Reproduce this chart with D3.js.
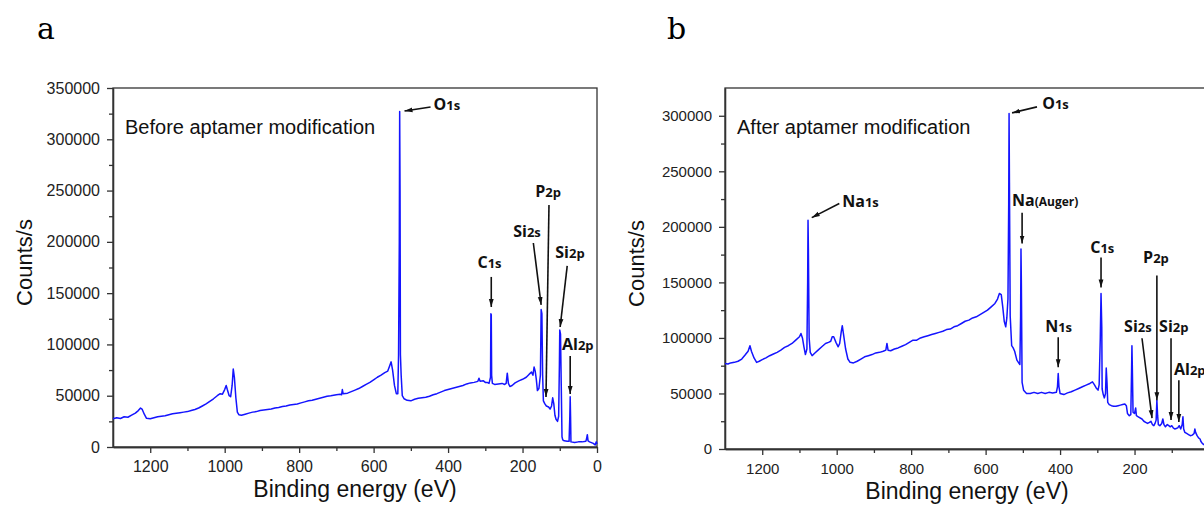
<!DOCTYPE html>
<html>
<head>
<meta charset="utf-8">
<script src="https://cdnjs.cloudflare.com/ajax/libs/d3/7.8.5/d3.min.js"></script>
<style>
body { margin:0; background:#fff; overflow:hidden; }
svg { display:block; }
.axis text { fill:#222; font-family:"Liberation Sans", Arial, sans-serif; }
.axis path, .axis line { stroke:#333; stroke-width:1.3; }
</style>
</head>
<body>
<div id="chart"></div>
<script>
// XPS survey, before modification (binding energy eV, counts/s)
var energyA = [1300,1290,1280,1270,1260,1250,1240,1232,1226,1222,1216,1210,1200,1190,1180,1170,1160,1150,1140,1130,1120,1110,1100,1090,1080,1070,1060,1050,1040,1030,1020,1012,1006,1000,996,993,988,984,980,977,974,970,966,962,955,945,935,925,915,905,895,885,875,865,855,845,835,825,815,805,795,785,775,765,755,745,735,725,715,700,690,686,684,682,670,660,650,640,630,620,610,600,590,580,570,562,557,553,549,544,539,535,533,531,530,529,528,526,523,518,510,500,490,480,470,460,450,440,430,420,410,400,390,380,370,360,350,340,330,320,317,314,305,300,295,290,286,285,284,283,281,275,265,255,248,244,241,238,234,228,220,210,200,190,182,176,172,169,166,163,160,156,152,150,148,146,144,140,136,130,126,122,119,116,113,110,106,103,101,100,98,96,94,92,88,80,75,73,72,71,70,60,50,40,30,28,26,24,20,10,5,2,0];
var countsA = [27500,28500,27800,29500,29000,31000,33000,35500,38000,37000,32000,28000,27500,28500,29500,30000,30500,31500,32500,33000,33500,34000,34500,35500,36500,38000,40000,42000,44500,47000,50000,52000,51500,56000,60000,56000,50000,49000,60000,76000,68000,48000,34000,31500,31000,32000,33000,34000,34500,35500,36000,36500,37000,38000,38500,39500,40000,41000,41500,42000,43000,44000,45000,45500,46500,47500,48500,49500,50000,51000,51500,51000,56000,52000,52500,54000,55500,57000,59000,61000,63000,65500,68000,70000,72500,74000,79000,83000,75000,60000,52000,52000,90000,200000,327000,250000,90000,70000,50000,47000,45500,45000,46500,47500,48000,48500,49500,51000,52000,53500,55000,56000,57000,58000,59000,60000,61500,62500,63000,64000,67000,64000,64500,63000,63000,62000,68000,130000,129000,70000,62000,61000,61500,62000,61000,62000,72000,62000,59000,60000,62500,64500,66000,68000,71000,73000,70000,78000,74000,66000,55000,57000,70000,134000,130000,70000,45000,42000,40000,39000,37000,40000,48000,42000,31000,27000,25000,30000,80000,114000,110000,60000,10000,7000,6000,5500,5500,30000,49000,30000,5000,4500,5000,5000,5500,8000,12000,6000,5000,3500,2000,5000,3000];

// XPS survey, after modification
var energyB = [1300,1292,1285,1275,1265,1255,1245,1238,1233,1229,1222,1215,1208,1200,1190,1180,1170,1160,1150,1140,1130,1120,1110,1100,1096,1092,1088,1084,1080,1078,1077,1076,1074,1071,1066,1060,1050,1040,1030,1022,1016,1012,1008,1002,996,992,988,985,982,976,970,964,955,945,935,925,915,905,895,885,875,868,865,862,855,845,835,825,815,805,795,785,775,765,755,745,735,725,715,705,695,685,675,665,655,645,635,625,615,605,595,585,575,568,563,558,554,550,546,543,540,538,537,536,534,530,526,522,516,512,508,506,505,504,502,498,490,480,470,460,450,440,430,420,410,407,405,403,400,390,380,370,360,350,340,330,320,313,308,303,298,295,292,290,288,287,284,281,278,276,274,272,268,262,256,250,244,238,232,226,222,219,214,210,208,207,206,204,200,197,195,190,180,175,170,165,160,156,152,148,145,142,140,138,136,132,127,124,121,117,112,108,104,100,96,92,88,84,80,76,72,70,68,65,60,55,50,45,40,38,36,32,28,24,22,18,14,8,4,0];
var countsB = [77000,76500,77500,78000,79000,81000,85000,88000,93000,88000,82000,78000,79000,80500,82000,84000,85500,87000,89000,91500,93000,95000,98000,101000,104000,100000,92000,85000,90000,150000,206000,180000,100000,87000,84000,86000,89000,92000,95000,96000,97000,101000,101000,96000,92000,95000,105000,111000,104000,90000,81000,78000,77500,79000,81000,83000,84000,85000,86500,87000,88000,89000,95000,89000,88500,90000,91000,92500,94000,96000,98000,98000,100000,101000,102000,103000,104000,105000,106000,107500,108000,110000,111000,113000,115000,116000,118000,119000,121000,123000,125000,128000,131000,135000,140000,139000,128000,115000,110000,118000,135000,220000,302000,240000,120000,93000,91000,88000,80000,78000,76000,120000,180000,150000,60000,53000,50000,50000,51000,50000,51000,50000,51000,50500,51000,56000,68000,56000,50000,49000,50500,51500,53000,54500,56000,57500,59000,60500,58000,55000,53000,58000,100000,140000,110000,54000,49000,46000,50000,73000,60000,42000,40000,39000,38500,38500,39000,39500,40000,40500,39000,32000,30000,31000,70000,93000,75000,33000,32000,37000,30000,29000,27000,25000,24000,23000,24000,25000,22000,21000,23000,26000,44000,30000,22000,21000,23000,27000,22000,20000,22000,21000,20000,21000,19000,18000,18500,19000,21000,18000,22000,29000,18000,15000,14000,13000,12000,12500,14000,18000,15000,12000,10000,9000,7000,5000,4000,3500,5000,3000];

var xTicks = [1200, 1000, 800, 600, 400, 200, 0];
var xMinorTicks = [1100, 900, 700, 500, 300, 100];
var yTicksA = [0, 50000, 100000, 150000, 200000, 250000, 300000, 350000];
var yTicksB = [0, 50000, 100000, 150000, 200000, 250000, 300000];

// peak labels: name, subscript, text pos and arrow from/to, all in (eV, counts)
var peaksA = [
  {main:"O",  sub:"1s", tx:439, ty:328600, x1:447, y1:331500, x2:517, y2:327600},
  {main:"P",  sub:"2p", tx:166, ty:243700, x1:129, y1:236000, x2:137, y2:48800},
  {main:"Si", sub:"2s", tx:225, ty:204800, x1:171, y1:198900, x2:150, y2:138500},
  {main:"Si", sub:"2p", tx:112, ty:184300, x1:80,  y1:176500, x2:99,  y2:117000},
  {main:"C",  sub:"1s", tx:321, ty:174500, x1:284, y1:165800, x2:284, y2:136500},
  {main:"Al", sub:"2p", tx:94,  ty:94600,  x1:72,  y1:88700,  x2:72,  y2:51700}
];
var peaksB = [
  {main:"Na", sub:"1s",      tx:985, ty:218200, x1:993, y1:221000, x2:1067, y2:208300},
  {main:"O",  sub:"1s",      tx:448, ty:306200, x1:462, y1:308000, x2:529,  y2:302600},
  {main:"Na", sub:"(Auger)", tx:529, ty:219100, x1:502, y1:212800, x2:502,  y2:185000},
  {main:"C",  sub:"1s",      tx:319, ty:176900, x1:290, y1:172400, x2:290,  y2:145500},
  {main:"P",  sub:"2p",      tx:177, ty:167900, x1:140, y1:156300, x2:140,  y2:44000},
  {main:"N",  sub:"1s",      tx:440, ty:105100, x1:405, y1:100600, x2:405,  y2:73600},
  {main:"Si", sub:"2s",      tx:228, ty:105100, x1:180, y1:99700,  x2:153,  y2:27800},
  {main:"Si", sub:"2p",      tx:134, ty:105100, x1:102, y1:99700,  x2:102,  y2:26000},
  {main:"Al", sub:"2p",      tx:94,  ty:66500,  x1:81,  y1:62000,  x2:81,   y2:24200}
];

var svg = d3.select("#chart").append("svg").attr("width", 1204).attr("height", 506);

svg.append("defs").append("marker")
    .attr("id", "arr").attr("viewBox", "0 0 10 10")
    .attr("refX", 10).attr("refY", 5)
    .attr("markerUnits", "userSpaceOnUse")
    .attr("markerWidth", 8).attr("markerHeight", 8)
    .attr("orient", "auto")
  .append("path").attr("d", "M0,2L10,5L0,8z").attr("fill", "#111");

function drawPanel(cfg)
{
    var x = d3.scaleLinear().domain([1300, 0]).range([cfg.left, cfg.right]);
    var y = d3.scaleLinear().domain([0, cfg.yMax]).range([cfg.bottom, cfg.top]);
    var g = svg.append("g");

    // frame
    g.append("rect")
        .attr("x", cfg.left).attr("y", cfg.top)
        .attr("width", cfg.right - cfg.left).attr("height", cfg.bottom - cfg.top)
        .attr("fill", "none").attr("stroke", "#333").attr("stroke-width", 1.3);

    g.append("g").attr("class", "axis").attr("transform", "translate(0," + cfg.bottom + ")")
        .call(d3.axisBottom(x).tickValues(xMinorTicks).tickSize(4).tickSizeOuter(0).tickFormat(""));
    g.append("g").attr("class", "axis").attr("transform", "translate(0," + cfg.bottom + ")")
        .call(d3.axisBottom(x).tickValues(xTicks).tickSize(6).tickPadding(8).tickSizeOuter(0).tickFormat(d3.format("d")))
        .selectAll("text").style("font-size", cfg.tickFont + "px");

    var minorY = cfg.yTicks.map(function (d) { return d + 25000; }).filter(function (d) { return d < cfg.yMax; });
    g.append("g").attr("class", "axis").attr("transform", "translate(" + cfg.left + ",0)")
        .call(d3.axisLeft(y).tickValues(minorY).tickSize(4).tickSizeOuter(0).tickFormat(""));
    g.append("g").attr("class", "axis").attr("transform", "translate(" + cfg.left + ",0)")
        .call(d3.axisLeft(y).tickValues(cfg.yTicks).tickSize(6).tickPadding(7).tickSizeOuter(0).tickFormat(d3.format("d")))
        .selectAll("text").style("font-size", cfg.tickFont + "px");

    // spectrum
    var pts = cfg.energy.map(function (e, i) { return [e, cfg.counts[i]]; });
    g.append("path").datum(pts)
        .attr("fill", "none").attr("stroke", "#1414ff").attr("stroke-width", 1.5)
        .attr("stroke-linejoin", "round")
        .attr("d", d3.line().x(function (d) { return x(d[0]); }).y(function (d) { return y(d[1]); }));

    // axis titles
    g.append("text")
        .attr("x", (cfg.left + cfg.right) / 2).attr("y", cfg.bottom + 50)
        .attr("text-anchor", "middle")
        .style("font-family", "Liberation Sans, Arial, sans-serif").style("font-size", "23px").style("fill", "#111")
        .text("Binding energy (eV)");
    g.append("text")
        .attr("transform", "translate(" + (cfg.left - 81) + "," + ((cfg.top + cfg.bottom) / 2 - 5) + ") rotate(-90)")
        .attr("text-anchor", "middle")
        .style("font-family", "Liberation Sans, Arial, sans-serif").style("font-size", "22px").style("fill", "#111")
        .text("Counts/s");

    g.append("text")
        .attr("x", cfg.left + 12).attr("y", cfg.top + 46)
        .style("font-family", "Liberation Sans, Arial, sans-serif").style("font-size", "20px").style("fill", "#111")
        .text(cfg.title);

    g.append("text")
        .attr("x", cfg.letterX).attr("y", 39)
        .style("font-family", "DejaVu Serif, serif").style("font-size", "30px").style("fill", "#000")
        .text(cfg.letter);

    // peak labels with arrows
    cfg.peaks.forEach(function (p) {
        g.append("line")
            .attr("x1", x(p.x1)).attr("y1", y(p.y1))
            .attr("x2", x(p.x2)).attr("y2", y(p.y2))
            .attr("stroke", "#111").attr("stroke-width", 1.6)
            .attr("marker-end", "url(#arr)");
        var t = g.append("text")
            .attr("x", x(p.tx)).attr("y", y(p.ty))
            .style("font-family", "Open Sans, sans-serif").style("font-weight", "bold").style("fill", "#111");
        t.append("tspan").style("font-size", "16px").text(p.main);
        t.append("tspan").style("font-size", p.sub.length > 2 ? "12px" : "13px").text(p.sub);
    });
}

drawPanel({left:113, right:597, top:88, bottom:447, yMax:350000, yTicks:yTicksA, tickFont:16,
    energy:energyA, counts:countsA, peaks:peaksA,
    title:"Before aptamer modification", letter:"a", letterX:37});
drawPanel({left:725, right:1209, top:88, bottom:449, yMax:325000, yTicks:yTicksB, tickFont:15,
    energy:energyB, counts:countsB, peaks:peaksB,
    title:"After aptamer modification", letter:"b", letterX:667});
</script>
</body>
</html>
